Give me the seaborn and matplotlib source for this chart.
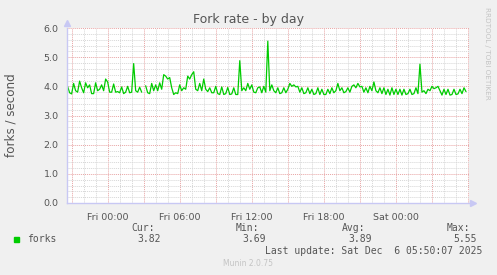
import numpy as np
import pandas as pd
import matplotlib
matplotlib.use("Agg")
import matplotlib.pyplot as plt
import matplotlib.dates as mdates
from matplotlib.patches import Rectangle
import seaborn as sns

# ---------------- data (10-minute steps) ----------------
start_time = "2025-12-04 20:40"
step = "10min"
forks = [
    4.00, 3.78, 3.74, 4.10, 3.85, 3.80, 4.18, 3.95, 3.78, 4.12,
    3.95, 4.05, 3.75, 3.75, 4.12, 3.85, 3.90, 4.05, 3.85, 4.25,
    4.15, 3.80, 3.80, 4.08, 3.80, 3.82, 3.78, 3.98, 3.75, 3.80,
    4.00, 3.78, 3.80, 4.78, 3.85, 3.80, 3.97, 3.80, np.nan, 4.02,
    3.78, 3.75, 4.10, 3.85, 4.05, 3.85, 4.12, 3.90, 4.40, 4.35,
    4.25, 4.30, 3.95, 3.72, 3.78, 3.75, 4.05, 3.85, 3.95, 3.90,
    4.35, 4.25, 4.40, 4.50, 3.90, 3.85, 4.10, 3.85, 4.25, 3.90,
    3.82, 3.95, 3.78, 3.78, 4.00, 3.75, 3.72, 3.98, 3.72, 3.75,
    3.96, 3.72, 3.74, 3.95, 3.72, 3.72, 4.88, 3.85, 3.95, 3.85,
    4.10, 3.90, 4.05, 3.80, 3.78, 3.95, 3.98, 3.78, 4.00, 3.80,
    5.55, 3.85, 4.05, 3.85, 3.78, 3.95, 3.75, 3.78, 3.95, 3.78,
    3.90, 4.10, 4.00, 4.05, 3.98, 4.00, 3.80, 3.95, 3.75, 3.78,
    3.95, 3.75, 3.90, 3.72, 3.75, 3.95, 3.72, 3.90, 3.72, 3.72,
    3.90, 3.75, 3.95, 3.78, 3.85, 4.10, 3.85, 3.95, 3.78, 3.82,
    3.95, 3.80, 4.00, 4.05, 3.95, 4.10, 3.98, 4.00, 3.80, 3.95,
    3.78, 4.00, 3.85, 4.15, 3.85, 3.78, 3.95, 3.75, 3.95, 3.72,
    3.90, 3.70, 3.95, 3.72, 3.90, 3.72, 3.90, 3.70, 3.90, 3.72,
    3.75, 3.90, 3.72, 3.75, 3.95, 3.75, 4.76, 3.80, 3.85, 3.75,
    3.90, 3.85, 4.00, 3.92, 3.95, 4.00, 3.85, 3.70, 3.90, 3.72,
    3.90, 3.70, 3.72, 3.90, 3.72, 3.74, 3.90, 3.75, 3.95, 3.82,
]
x_start = "2025-12-04 20:37"
x_end = "2025-12-06 06:05"
x_tick_times = ["2025-12-05 00:00", "2025-12-05 06:00", "2025-12-05 12:00",
                "2025-12-05 18:00", "2025-12-06 00:00"]
x_tick_labels = ["Fri 00:00", "Fri 06:00", "Fri 12:00", "Fri 18:00", "Sat 00:00"]
y_ticks = [0.0, 1.0, 2.0, 3.0, 4.0, 5.0, 6.0]
title = "Fork rate - by day"
y_label = "forks / second"
series_name = "forks"
stat_names = ["Cur:", "Min:", "Avg:", "Max:"]
stat_values = ["3.82", "3.69", "3.89", "5.55"]
last_update = "Last update: Sat Dec  6 05:50:07 2025"
footer = "Munin 2.0.75"
side_text = "RRDTOOL / TOBI OETIKER"

# ---------------- frame ----------------
times = pd.date_range(start_time, periods=len(forks), freq=step)
df = pd.DataFrame({"time": times, "forks": forks})
df["segment"] = df["forks"].isna().cumsum()
df = df.dropna()

sns.set_theme(style="white")
plt.rcParams["font.family"] = ["DejaVu Sans"]

W, H = 497, 275
fig = plt.figure(figsize=(W / 100, H / 100), dpi=100, facecolor="#F0F0F0")
L, R, T, B = 67, 469, 28, 203
ax = fig.add_axes([L / W, 1 - B / H, (R - L) / W, (B - T) / H])
ax.set_facecolor("white")

major_c = "#e8a4a4"
minor_c = "#d6d6d6"
axis_c = "#c8c8f4"
text_c = "#555555"

ax.set_xlim(pd.Timestamp(x_start), pd.Timestamp(x_end))
ax.set_ylim(0, 6.0)

ax.yaxis.set_major_locator(matplotlib.ticker.FixedLocator(y_ticks))
ax.yaxis.set_minor_locator(matplotlib.ticker.MultipleLocator(0.2))
ax.set_yticklabels([f"{v:.1f}" for v in y_ticks])

ax.xaxis.set_major_locator(mdates.HourLocator(byhour=range(0, 24, 3)))
ax.xaxis.set_minor_locator(mdates.HourLocator())
ax.grid(which="minor", color=minor_c, linestyle=(0, (1, 1)), linewidth=0.7)
ax.grid(which="major", color=major_c, linestyle=(0, (1, 1)), linewidth=0.7)
ax.set_axisbelow(True)

sns.lineplot(data=df, x="time", y="forks", units="segment", estimator=None,
             color="#00CC00", linewidth=0.9, ax=ax, legend=False)

label_map = {pd.Timestamp(t): s for t, s in zip(x_tick_times, x_tick_labels)}
def fmt(x, pos):
    d = pd.Timestamp(mdates.num2date(x)).tz_localize(None).round("min")
    return label_map.get(d, "")
ax.xaxis.set_major_formatter(matplotlib.ticker.FuncFormatter(fmt))

ax.tick_params(axis="both", which="major", length=3, width=0.7, color=major_c,
               labelsize=6.8, labelcolor=text_c, pad=2)
ax.tick_params(axis="both", which="minor", length=2, width=0.7, color=minor_c)
ax.tick_params(axis="x", which="major", pad=4)
ax.tick_params(axis="y", which="major", pad=3)
ax.set_xlabel("")
ax.set_ylabel(y_label, fontsize=8.6, color=text_c, labelpad=19)

for s in ["top", "right"]:
    ax.spines[s].set_visible(False)
for s in ["left", "bottom"]:
    ax.spines[s].set_color(axis_c)
    ax.spines[s].set_linewidth(1.0)
ax.plot([0], [1.03], marker="^", color=axis_c, markersize=5, transform=ax.transAxes,
        clip_on=False)
ax.plot([1.01], [0], marker=">", color=axis_c, markersize=5, transform=ax.transAxes,
        clip_on=False)

# ---------------- texts ----------------
fig.text(0.5, 1 - 19 / H, title, ha="center", va="center", fontsize=9, color=text_c)
fig.text(487 / W, 1 - 53 / H, side_text, ha="center", va="center", rotation=270,
         fontsize=5.2, color="#c4c4c4")

mono = "DejaVu Sans Mono"
fig.patches.append(Rectangle((14 / W, 1 - 242 / H), 5 / W, 5 / H,
                             transform=fig.transFigure, color="#00CC00"))
fig.text(27 / W, 1 - 239.5 / H, series_name, ha="left", va="center", family=mono,
         fontsize=7, color=text_c)
stat_right_names = [155, 259, 365, 470]
stat_right_vals = [161, 266, 372, 477]
for nm, val, xn, xv in zip(stat_names, stat_values, stat_right_names, stat_right_vals):
    fig.text(xn / W, 1 - 228 / H, nm, ha="right", va="center", family=mono,
             fontsize=7, color=text_c)
    fig.text(xv / W, 1 - 239.5 / H, val, ha="right", va="center", family=mono,
             fontsize=7, color=text_c)
fig.text(482 / W, 1 - 251 / H, last_update, ha="right", va="center", family=mono,
         fontsize=7, color=text_c)
fig.text(248 / W, 1 - 264 / H, footer, ha="center", va="center", fontsize=5.5,
         color="#c4c4c4")

fig.savefig("out.png", dpi=100, facecolor=fig.get_facecolor())
